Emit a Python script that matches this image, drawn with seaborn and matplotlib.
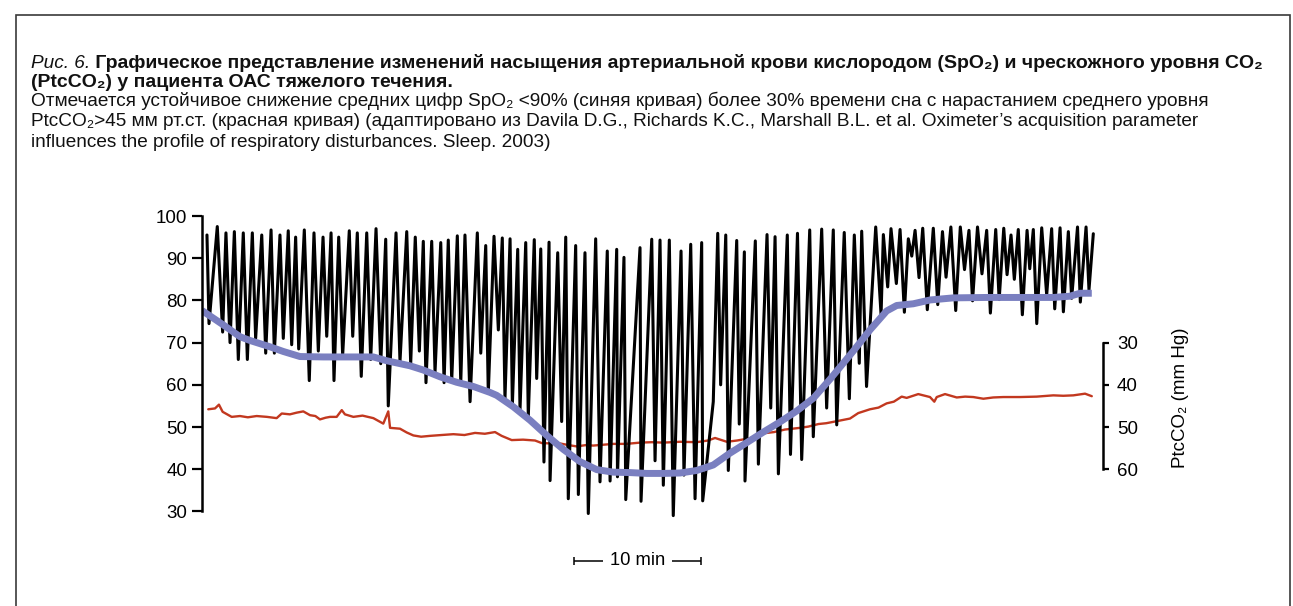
import matplotlib
matplotlib.use("Agg")
import matplotlib.pyplot as plt
from matplotlib.patches import Rectangle
import pandas as pd
import seaborn as sns

# ---- SpO2 raw trace (time in minutes, saturation in %) ----
spo2_min = [0.39, 0.55, 1.20, 1.62, 1.88, 2.20, 2.54, 2.85, 3.24, 3.56, 3.95, 4.21, 4.69, 5.00,
            5.42, 5.68, 6.12, 6.38, 6.77, 7.04, 7.35, 7.59, 8.03, 8.42, 8.79, 9.13, 9.50, 9.79,
            10.13, 10.36, 10.73, 11.04, 11.56, 11.83, 12.19, 12.50, 12.93, 13.24, 13.66, 14.03,
            14.42, 14.62, 15.23, 15.54, 16.07, 16.38, 16.74, 17.06, 17.37, 17.58, 18.03, 18.29,
            18.74, 19.00, 19.33, 19.60, 20.04, 20.31, 20.64, 21.04, 21.61, 21.88, 22.27, 22.47,
            22.92, 23.26, 23.57, 23.78, 24.18, 24.36, 24.78, 24.96, 25.41, 25.61, 26.08, 26.27,
            26.59, 26.84, 27.24, 27.32, 27.92, 28.23, 28.55, 28.75, 29.33, 29.54, 30.06, 30.32,
            30.90, 31.24, 31.81, 32.03, 32.55, 32.61, 33.12, 33.26, 34.38, 34.46, 35.30, 35.56,
            35.95, 36.21, 36.68, 36.99, 37.60, 37.83, 38.36, 38.70, 39.22, 39.30, 40.13, 40.48,
            40.71, 41.11, 41.31, 41.97, 42.17, 42.57, 42.62, 43.43, 43.67, 44.35, 44.64, 44.98,
            45.24, 45.94, 46.19, 46.74, 47.07, 47.70, 47.98, 48.64, 49.03, 49.55, 49.82, 50.41,
            50.81, 51.20, 51.59, 51.78, 52.16, 52.88, 53.30, 53.48, 53.82, 54.08, 54.50, 54.79,
            55.13, 55.44, 55.71, 55.97, 56.28, 56.57, 56.93, 57.40, 57.75, 58.12, 58.40, 58.78,
            59.16, 59.52, 59.85, 60.20, 60.48, 60.87, 61.22, 61.59, 61.88, 62.30, 62.57, 62.93,
            63.19, 63.50, 63.76, 64.07, 64.39, 64.76, 64.97, 65.25, 65.52, 65.91, 66.30, 66.69,
            66.93, 67.35, 67.61, 68.00, 68.26, 68.72, 68.94, 69.39, 69.62, 69.96]
spo2_pct = [95.5, 74.5, 97.5, 72.5, 96.0, 70.0, 96.3, 66.0, 96.0, 66.0, 96.0, 71.0, 95.5, 67.5,
            96.7, 67.5, 95.5, 71.0, 96.5, 69.5, 95.0, 68.5, 96.7, 61.0, 96.0, 68.0, 95.0, 71.5,
            96.0, 61.0, 95.0, 67.0, 96.5, 71.5, 96.0, 62.0, 96.0, 66.0, 97.0, 65.0,
            94.5, 55.0, 96.0, 65.5, 96.3, 65.0, 95.0, 68.0, 94.0, 60.5, 94.0, 63.0,
            93.7, 60.5, 94.3, 61.0, 95.3, 60.5, 95.5, 56.0, 96.0, 67.5, 93.0, 58.0,
            95.2, 73.0, 94.8, 56.7, 94.6, 55.2, 92.1, 54.0, 93.7, 52.4, 94.4, 61.5,
            92.2, 41.7, 93.8, 37.3, 91.3, 51.3, 95.0, 33.0, 93.0, 34.0, 91.3, 29.5,
            94.6, 37.0, 91.7, 37.2, 92.1, 38.2, 90.2, 32.8, 92.5, 32.4, 94.5, 42.0,
            94.3, 36.2, 94.3, 29.0, 91.7, 38.6, 93.3, 33.0, 93.7, 32.5, 56.0, 95.9,
            60.0, 95.5, 39.7, 94.2, 50.7, 91.5, 37.2, 94.1, 41.2, 95.6, 54.5, 95.1,
            38.9, 95.5, 43.5, 95.9, 42.3, 96.7, 47.7, 96.9, 54.5, 96.7, 50.5, 96.1,
            56.7, 95.5, 65.1, 96.4, 59.6, 97.4, 76.6, 95.6, 83.2, 97.0, 84.0, 96.8,
            77.2, 94.6, 90.5, 96.6, 85.4, 97.1, 77.8, 97.1, 79.0, 96.3, 85.5, 97.4,
            77.6, 97.4, 87.3, 96.6, 79.9, 97.4, 86.3, 96.6, 77.0, 96.8, 80.2, 97.1,
            86.1, 95.5, 85.0, 96.8, 76.6, 96.6, 87.5, 96.8, 74.5, 97.2, 81.3, 97.0,
            78.0, 97.2, 77.3, 96.3, 80.5, 97.4, 79.6, 97.4, 82.5, 95.8]

# ---- Mean SpO2 (blue curve) ----
mean_min = [0.0, 1.67, 2.98, 3.77, 5.34, 6.38, 7.69, 9.52, 13.45, 14.50, 16.33, 17.37, 18.68,
            19.99, 21.30, 22.60, 23.13, 24.43, 25.75, 27.06, 28.36, 29.67, 30.98, 32.28, 33.59,
            34.91, 36.21, 37.52, 38.83, 40.13, 41.44, 42.76, 44.06, 45.37, 46.68, 47.98, 49.29,
            51.12, 52.43, 53.74, 54.53, 55.83, 57.14, 58.97, 61.59, 66.82, 68.13, 68.92, 69.84]
mean_pct = [77.6, 74.2, 71.4, 70.5, 69.0, 67.9, 66.7, 66.6, 66.6, 65.7, 64.5, 63.5, 61.9,
            60.6, 59.6, 58.2, 57.5, 54.8, 51.6, 48.0, 44.7, 41.8, 39.9, 39.3, 39.2,
            39.0, 39.0, 39.1, 39.7, 41.0, 43.8, 46.3, 48.8, 51.2, 53.8, 56.8, 61.3,
            68.0, 73.0, 77.5, 78.8, 79.2, 80.1, 80.6, 80.7, 80.7, 81.0, 81.7, 81.7]

# ---- Transcutaneous CO2 (red curve, mm Hg) ----
co2_min = [0.49, 1.02, 1.33, 1.62, 2.33, 2.98, 3.60, 4.29, 5.10, 5.86, 6.26, 6.90, 7.43, 7.95,
           8.48, 8.90, 9.26, 9.70, 10.05, 10.57, 10.97, 11.22, 11.88, 12.60, 13.45, 14.23,
           14.62, 14.76, 15.54, 16.07, 16.59, 17.20, 17.90, 18.80, 19.73, 20.60, 21.43, 22.20,
           23.00, 23.52, 24.31, 25.20, 26.14, 26.66, 27.40, 28.10, 28.80, 29.41, 30.10, 30.71,
           31.50, 32.28, 33.30, 34.38, 35.30, 36.21, 37.50, 38.83, 39.72, 40.27, 41.19, 42.00,
           42.76, 43.40, 44.06, 44.90, 45.76, 46.94, 47.60, 48.38, 49.00, 49.69, 50.86, 51.51,
           52.43, 53.10, 53.74, 54.30, 54.92, 55.31, 56.22, 57.14, 57.48, 57.67, 58.32, 59.24,
           59.90, 60.54, 61.33, 62.10, 62.90, 64.20, 65.52, 66.82, 67.60, 68.39, 69.31, 69.84]
co2_mmhg = [45.8, 45.6, 44.7, 46.4, 47.6, 47.4, 47.7, 47.4, 47.6, 47.9, 46.8, 47.0, 46.6, 46.3,
            47.2, 47.4, 48.2, 47.8, 47.6, 47.6, 46.0, 47.0, 47.6, 47.3, 47.9, 49.2,
            46.3, 50.2, 50.4, 51.3, 52.0, 52.3, 52.1, 51.9, 51.7, 51.9, 51.4, 51.6,
            51.2, 52.1, 53.1, 53.0, 53.2, 53.8, 53.9, 53.9, 54.3, 54.6, 54.3, 54.4,
            54.2, 54.0, 54.0, 53.7, 53.6, 53.7, 53.5, 53.6, 53.2, 52.6, 53.5, 53.2,
            52.8, 52.4, 51.5, 51.2, 50.6, 50.2, 49.9, 49.3, 49.1, 48.7, 48.0, 46.7,
            45.8, 45.4, 44.4, 44.0, 42.8, 43.1, 42.2, 42.9, 44.0, 42.9, 42.2, 43.0,
            42.8, 42.9, 43.3, 43.0, 42.9, 42.9, 42.8, 42.5, 42.6, 42.5, 42.1, 42.7]

spo2_ticks = [30, 40, 50, 60, 70, 80, 90, 100]
co2_ticks = [30, 40, 50, 60]

caption_fig = "Рис. 6."
caption_bold_1 = (" Графическое представление изменений насыщения артериальной крови "
                  "кислородом (SpO₂) и чрескожного уровня CO₂")
caption_bold_2 = "(PtcCO₂) у пациента ОАС тяжелого течения."
caption_lines = [
    "Отмечается устойчивое снижение средних цифр SpO₂ <90% (синяя кривая) более 30% "
    "времени сна с нарастанием среднего уровня",
    "PtcCO₂>45 мм рт.ст. (красная кривая) (адаптировано из Davila D.G., Richards K.C., "
    "Marshall B.L. et al. Oximeter’s acquisition parameter",
    "influences the profile of respiratory disturbances. Sleep. 2003)",
]
co2_label = "PtcCO₂ (mm Hg)"
scale_label = "10 min"

# ---------------------------------------------------------------------------
sns.set_theme(style="white")
plt.rcParams["font.family"] = ["Liberation Sans", "DejaVu Sans"]

W, H = 1293, 606
fig = plt.figure(figsize=(W / 100, H / 100), dpi=100)
fig.patch.set_facecolor("white")

ax = fig.add_axes([202 / W, 1 - 574.7 / H, 901 / W, 360.8 / H])
ax.set_xlim(0, 70.72)
ax.set_ylim(15, 100.5)
ax2 = ax.twinx()
ax2.set_ylim(100 - 15, 100 - 100.5)
ax.set_zorder(ax2.get_zorder() + 1)
ax.patch.set_visible(False)

raw = pd.DataFrame({"t": spo2_min, "v": spo2_pct})
mean = pd.DataFrame({"t": mean_min, "v": mean_pct})
co2 = pd.DataFrame({"t": co2_min, "v": co2_mmhg})

sns.lineplot(data=co2, x="t", y="v", ax=ax2, color="#c2381f", lw=1.7,
             estimator=None, sort=False)
sns.lineplot(data=raw, x="t", y="v", ax=ax, color="black", lw=2.2,
             estimator=None, sort=False)
sns.lineplot(data=mean, x="t", y="v", ax=ax, color="#7a7fc0", lw=5.0,
             estimator=None, sort=False, solid_capstyle="butt")

for a in (ax, ax2):
    a.set_xlabel("")
    a.set_ylabel("")
    a.set_xticks([])
    for s in a.spines.values():
        s.set_visible(False)

ax.spines["left"].set_visible(True)
ax.spines["left"].set_bounds(30, 100)
ax.spines["left"].set_linewidth(1.8)
ax.spines["left"].set_color("black")
ax.set_yticks(spo2_ticks)
ax.tick_params(axis="y", left=True, right=False, direction="out", length=7, width=1.6,
               pad=3.5, labelsize=13.5, labelcolor="black", color="black")

ax2.spines["right"].set_visible(True)
ax2.spines["right"].set_bounds(30, 60)
ax2.spines["right"].set_linewidth(1.8)
ax2.spines["right"].set_color("black")
ax2.set_yticks(co2_ticks)
ax2.tick_params(axis="y", right=True, left=False, direction="out", length=4, width=1.6,
                pad=6, labelsize=13.5, labelcolor="black", color="black")
ax2.set_ylabel(co2_label, fontsize=13.5, color="black", rotation=90, va="center", ha="center")
ax2.yaxis.set_label_coords((1180 - 202) / 901, (574.7 - 398) / 360.8)

# 10-minute scale bar under the traces
bar_y = 18.3
bar_l, bar_r = 29.2, 39.2
kw = dict(color="black", lw=1.1, clip_on=False, solid_capstyle="butt")
ax.plot([bar_l, 31.5], [bar_y, bar_y], **kw)
ax.plot([36.9, bar_r], [bar_y, bar_y], **kw)
ax.plot([bar_l, bar_l], [bar_y - 0.9, bar_y + 0.9], **kw)
ax.plot([bar_r, bar_r], [bar_y - 0.9, bar_y + 0.9], **kw)
ax.text((bar_l + bar_r) / 2, bar_y, scale_label, ha="center", va="center", fontsize=13.2,
        color="black")

# caption block
renderer = fig.canvas.get_renderer()
txt_color = "#111111"
bold_size = 14.0
reg_size = 13.7
x0 = 31
t1 = fig.text(x0 / W, 1 - 68 / H, caption_fig, fontsize=reg_size, fontstyle="italic",
              va="baseline", ha="left", color=txt_color)
x1 = t1.get_window_extent(renderer).x1
fig.text(x1 / W, 1 - 68 / H, caption_bold_1, fontsize=bold_size, fontweight="bold",
         va="baseline", ha="left", color=txt_color)
fig.text(x0 / W, 1 - 87 / H, caption_bold_2, fontsize=bold_size, fontweight="bold",
         va="baseline", ha="left", color=txt_color)
for i, line in enumerate(caption_lines):
    fig.text(x0 / W, 1 - (106 + 20.5 * i) / H, line, fontsize=reg_size, va="baseline",
             ha="left", color=txt_color)

# outer frame
fig.patches.append(Rectangle((16 / W, -0.05), (1290 - 16) / W, 1.05 - 15 / H,
                             transform=fig.transFigure, fill=False, edgecolor="#3a3a3a",
                             lw=1.2))

fig.savefig("out.png", dpi=100, facecolor="white")
